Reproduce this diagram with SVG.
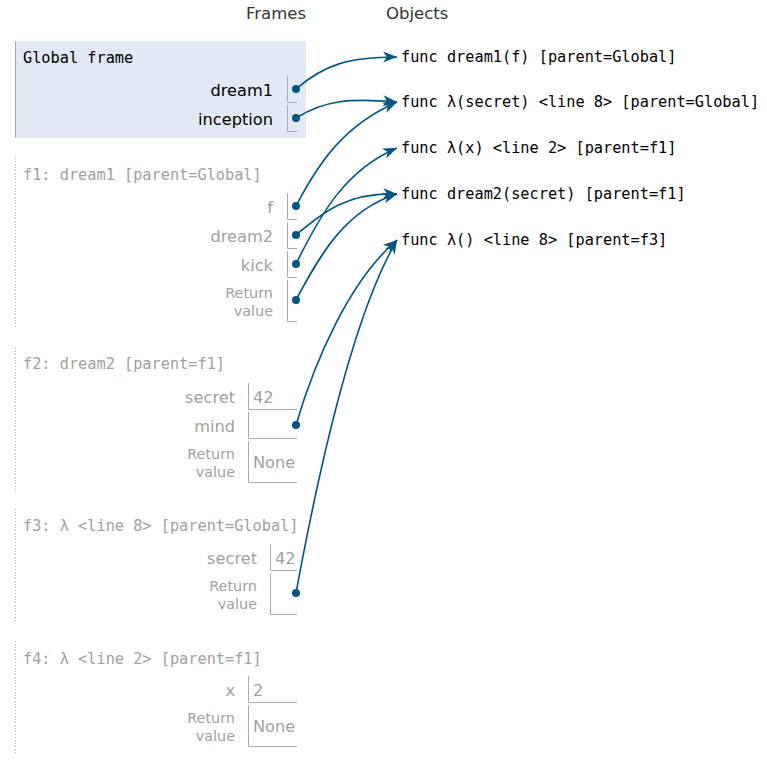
<svg xmlns="http://www.w3.org/2000/svg" width="767" height="772" viewBox="0 0 767 772">
<style>
.hdr{font-family:"DejaVu Sans",Verdana,sans-serif;font-size:16.5px;fill:#333}
.mono{font-family:"DejaVu Sans Mono","Liberation Mono",monospace;font-size:15.25px}
.blk{fill:#000}
.gry{fill:#a0a0a0}
.lbl{font-family:"DejaVu Sans",Verdana,sans-serif;font-size:16.2px;text-anchor:end}
.rv{font-family:"DejaVu Sans",Verdana,sans-serif;font-size:14.4px;text-anchor:end;fill:#a0a0a0}
.val{font-family:"DejaVu Sans",Verdana,sans-serif;font-size:16.2px;fill:#a0a0a0}
.box{fill:none;stroke:#aaa;stroke-width:1}
.dot{fill:#005583}
.fr{stroke:#aaa;stroke-width:1;stroke-dasharray:1,2}
.conn{fill:none;stroke:#005583;stroke-width:1.6}
</style>
<defs>
<marker id="ah" markerUnits="userSpaceOnUse" markerWidth="16" markerHeight="12" refX="14" refY="6" orient="auto">
<path d="M0,0.5 L14,6 L0,11.5 L4,6 z" fill="#005583"/>
</marker>
</defs>
<rect width="767" height="772" fill="#fff"/>
<text class="hdr" x="246" y="19">Frames</text>
<text class="hdr" x="386" y="19">Objects</text>

<g id="global-frame">
<rect x="15" y="41" width="291" height="97" fill="#e2e9f4"/>
<line x1="15.5" y1="41" x2="15.5" y2="138" stroke="#aaa"/>
<text class="mono blk" x="23" y="63">Global frame</text>
<text class="lbl blk" x="273" y="96">dream1</text>
<path class="box" d="M287.5,76 V102.5 H297"/>
<circle class="dot" cx="296" cy="89" r="4"/>
<text class="lbl blk" x="273" y="125">inception</text>
<path class="box" d="M287.5,105 V131.5 H297"/>
<circle class="dot" cx="296" cy="118" r="4"/>
</g>

<g id="f1">
<line class="fr" x1="15.5" y1="158" x2="15.5" y2="328"/>
<text class="mono gry" x="23" y="180">f1: dream1 [parent=Global]</text>
<text class="lbl gry" x="273" y="213">f</text>
<path class="box" d="M287.5,193 V219.5 H297"/>
<circle class="dot" cx="296" cy="206" r="4"/>
<text class="lbl gry" x="273" y="242">dream2</text>
<path class="box" d="M287.5,222 V248.5 H297"/>
<circle class="dot" cx="296" cy="235" r="4"/>
<text class="lbl gry" x="273" y="271">kick</text>
<path class="box" d="M287.5,251 V277.5 H297"/>
<circle class="dot" cx="296" cy="264" r="4"/>
<text class="rv" x="273" y="298">Return</text>
<text class="rv" x="273" y="316">value</text>
<path class="box" d="M287.5,280 V321.5 H297"/>
<circle class="dot" cx="296" cy="300" r="4"/>
</g>

<g id="f2">
<line class="fr" x1="15.5" y1="348" x2="15.5" y2="490"/>
<text class="mono gry" x="23" y="369">f2: dream2 [parent=f1]</text>
<text class="lbl gry" x="235" y="403">secret</text>
<path class="box" d="M248.5,383 V409.5 H297"/>
<text class="val" x="253" y="403">42</text>
<text class="lbl gry" x="235" y="432">mind</text>
<path class="box" d="M248.5,412 V438.5 H297"/>
<circle class="dot" cx="296" cy="425" r="4"/>
<text class="rv" x="235" y="459">Return</text>
<text class="rv" x="235" y="477">value</text>
<path class="box" d="M248.5,441 V482.5 H297"/>
<text class="val" x="253" y="468">None</text>
</g>

<g id="f3">
<line class="fr" x1="15.5" y1="509" x2="15.5" y2="622"/>
<text class="mono gry" x="23" y="531">f3: λ &lt;line 8&gt; [parent=Global]</text>
<text class="lbl gry" x="257" y="564">secret</text>
<path class="box" d="M270.5,544 V570.5 H297"/>
<text class="val" x="275" y="564">42</text>
<text class="rv" x="257" y="591">Return</text>
<text class="rv" x="257" y="609">value</text>
<path class="box" d="M270.5,573 V614.5 H297"/>
<circle class="dot" cx="296" cy="593" r="4"/>
</g>

<g id="f4">
<line class="fr" x1="15.5" y1="641" x2="15.5" y2="754"/>
<text class="mono gry" x="23" y="664">f4: λ &lt;line 2&gt; [parent=f1]</text>
<text class="lbl gry" x="235" y="696">x</text>
<path class="box" d="M248.5,676 V702.5 H297"/>
<text class="val" x="253" y="696">2</text>
<text class="rv" x="235" y="723">Return</text>
<text class="rv" x="235" y="741">value</text>
<path class="box" d="M248.5,705 V746.5 H297"/>
<text class="val" x="253" y="732">None</text>
</g>

<g id="obj-dream1"><text class="mono blk" x="401" y="62">func dream1(f) [parent=Global]</text></g>
<g id="obj-lambda-secret"><text class="mono blk" x="401" y="107">func λ(secret) &lt;line 8&gt; [parent=Global]</text></g>
<g id="obj-lambda-x"><text class="mono blk" x="401" y="153">func λ(x) &lt;line 2&gt; [parent=f1]</text></g>
<g id="obj-dream2"><text class="mono blk" x="401" y="199">func dream2(secret) [parent=f1]</text></g>
<g id="obj-lambda-empty"><text class="mono blk" x="401" y="245">func λ() &lt;line 8&gt; [parent=f3]</text></g>

<g id="connectors">
<path class="conn" marker-end="url(#ah)" d="M296,89 C325,64 350,57 397,57"/>
<path class="conn" marker-end="url(#ah)" d="M296,118 C325,100 350,98 397,102"/>
<path class="conn" marker-end="url(#ah)" d="M296,206 C320,160 345,125 397,102"/>
<path class="conn" marker-end="url(#ah)" d="M296,235 C320,215 345,192 397,194"/>
<path class="conn" marker-end="url(#ah)" d="M296,264 C320,215 345,170 397,148"/>
<path class="conn" marker-end="url(#ah)" d="M296,300 C320,255 345,210 397,194"/>
<path class="conn" marker-end="url(#ah)" d="M296,425 C315,360 350,280 397,240"/>
<path class="conn" marker-end="url(#ah)" d="M296,593 C315,490 350,320 397,240"/>
</g>
</svg>
